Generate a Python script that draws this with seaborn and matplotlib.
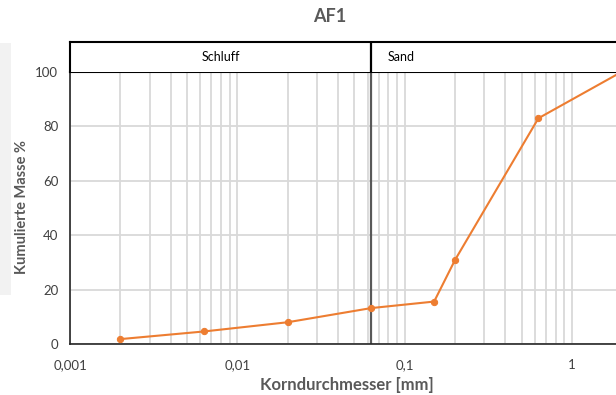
import numpy as np
import matplotlib
matplotlib.use("Agg")
import matplotlib.pyplot as plt
import matplotlib.ticker as mticker
from matplotlib.patches import Rectangle
import seaborn as sns

# data
grain_mm = [0.002, 0.0063, 0.02, 0.063, 0.15, 0.2, 0.63, 2.0]
cum_mass = [1.8, 4.6, 8.0, 13.2, 15.6, 30.9, 83.0, 100.2]
x_ticks = [0.001, 0.01, 0.1, 1]
x_tick_labels = ["0,001", "0,01", "0,1", "1"]
y_ticks = [0, 20, 40, 60, 80, 100]
zones = ["Schluff", "Sand"]
zone_border = 0.063

sns.set_style("white")
plt.rcParams['font.family'] = ['Lato', 'DejaVu Sans']

W, H = 616, 395
fig = plt.figure(figsize=(W / 100, H / 100), dpi=100)

# left over grey strip from the neighbouring element
fig.patches.append(Rectangle((0, 1 - 295 / H), 11 / W, (295 - 43) / H,
                             transform=fig.transFigure, facecolor="#f2f2f2",
                             edgecolor="none", zorder=0))

left, right = 70 / W, 1.0
bottom, mid, top = 1 - 344 / H, 1 - 72 / H, 1 - 42 / H
ax = fig.add_axes([left, bottom, right - left, mid - bottom])
hdr = fig.add_axes([left, mid, right - left, top - mid], sharex=ax)

xmax = 10 ** ((616 - 572) / 167.3)
ax.set_xscale("log")
ax.set_xlim(0.001, xmax)
ax.set_ylim(0, 100)

grid_col = "#d9d9d9"
ax.xaxis.set_minor_locator(mticker.LogLocator(base=10, subs=np.arange(2, 10)))
ax.grid(True, which="both", axis="x", color=grid_col, lw=1.3)
ax.grid(True, which="major", axis="y", color=grid_col, lw=1.3)
ax.set_axisbelow(True)

ax.axvline(zone_border, color="#595959", lw=1.6, zorder=2)

sns.lineplot(x=grain_mm, y=cum_mass, ax=ax, color="#ED7D31", lw=1.5,
             marker="o", markersize=4.5, markeredgecolor="#ED7D31",
             sort=False, zorder=3, clip_on=True)

ax.set_xticks(x_ticks)
ax.set_xticklabels(x_tick_labels)
ax.set_yticks(y_ticks)
ax.tick_params(axis="both", which="major", direction="out", length=5,
               width=1, color="#404040", labelsize=9.5, labelcolor="#404040")
ax.tick_params(axis="x", which="minor", length=0)
ax.tick_params(axis="x", pad=6)
for s in ["left", "bottom"]:
    ax.spines[s].set_color("#262626")
    ax.spines[s].set_linewidth(1.2)
ax.spines["right"].set_visible(False)
ax.spines["top"].set_color("black")
ax.spines["top"].set_linewidth(1.5)

# header band with soil classes
hdr.set_ylim(0, 1)
hdr.axvline(zone_border, color="black", lw=1.6)
hdr.text(np.sqrt(0.001 * zone_border), 0.5, zones[0], ha="center", va="center",
         fontsize=9, color="black")
hdr.text(0.079, 0.5, zones[1], ha="left", va="center", fontsize=9, color="black")
hdr.tick_params(left=False, bottom=False, labelleft=False, labelbottom=False)
hdr.tick_params(axis="x", which="minor", length=0)
for s in ["left", "top"]:
    hdr.spines[s].set_color("black")
    hdr.spines[s].set_linewidth(1.5)
hdr.spines["bottom"].set_visible(False)
hdr.spines["right"].set_visible(False)

fig.text(330 / W, 1 - 17 / H, "AF1", ha="center", va="center",
         fontsize=13, fontweight="bold", color="#595959")
fig.text(347 / W, 1 - 385 / H, "Korndurchmesser [mm]", ha="center", va="center",
         fontsize=12, fontweight="bold", color="#595959")
fig.text(22 / W, 1 - 207 / H, "Kumulierte Masse %", ha="center", va="center",
         rotation=90, fontsize=10.5, fontweight="bold", color="#595959")

fig.savefig("out.png", dpi=100)
